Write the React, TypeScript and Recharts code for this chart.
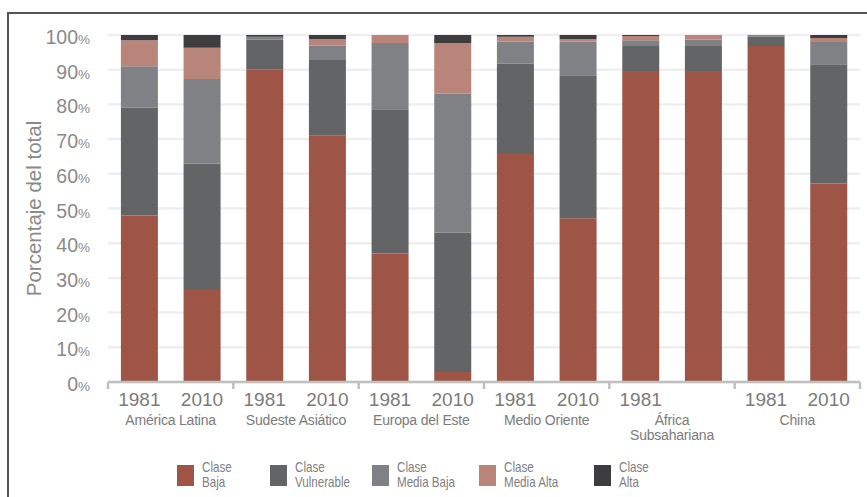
import { BarChart, Bar, XAxis, YAxis, CartesianGrid, Label } from 'recharts';

// regiones (una por grupo de dos barras) y años bajo cada barra
const regions = ['América Latina', 'Sudeste Asiático', 'Europa del Este', 'Medio Oriente', 'África\nSubsahariana', 'China'];
const years = ['1981', '2010', '1981', '2010', '1981', '2010', '1981', '2010', '1981', '', '1981', '2010'];

// porcentaje del total por clase
const claseBaja = [48, 26.5, 90, 71, 37, 2.9, 65.7, 47.2, 89.6, 89.6, 96.8, 57.2];
const claseVulnerable = [31, 36.5, 8.6, 21.8, 41.6, 40.1, 26.0, 41.2, 7.2, 7.2, 2.7, 34.4];
const claseMediaBaja = [12, 24.3, 0.9, 4.1, 19.1, 40.1, 6.4, 9.7, 1.7, 1.9, 0.5, 6.4];
const claseMediaAlta = [7.5, 9, 0, 1.9, 2.3, 14.6, 1.4, 0.7, 1.2, 1.3, 0, 1.1];
const claseAlta = [1.5, 3.7, 0.5, 1.2, 0, 2.3, 0.5, 1.2, 0.3, 0, 0, 0.9];

const yTicks = [0, 10, 20, 30, 40, 50, 60, 70, 80, 90, 100];

const series = [
  { key: 'baja', label: ['Clase', 'Baja'], color: '#9e5546', values: claseBaja },
  { key: 'vulnerable', label: ['Clase', 'Vulnerable'], color: '#636466', values: claseVulnerable },
  { key: 'mediaBaja', label: ['Clase', 'Media Baja'], color: '#808184', values: claseMediaBaja },
  { key: 'mediaAlta', label: ['Clase', 'Media Alta'], color: '#b9857a', values: claseMediaAlta },
  { key: 'alta', label: ['Clase', 'Alta'], color: '#3d3d3f', values: claseAlta },
];

const data = years.map((year, i) => {
  const row: Record<string, string | number> = { key: `b${i}`, year, region: regions[Math.floor(i / 2)] };
  series.forEach((s) => {
    row[s.key] = s.values[i];
  });
  return row;
});

// ancho de cada entrada de la leyenda
const legendWidths = [93, 102, 107, 115, 60];

const FONT = "'Liberation Sans', Arial, sans-serif";

function YTick(props: any) {
  const { x, y, payload } = props;
  return (
    <text x={x} y={y + 9} textAnchor="end" fill="#8a8a8a" fontFamily={FONT}>
      <tspan fontSize={19.5}>{payload.value}</tspan>
      <tspan fontSize={13.5}>%</tspan>
    </text>
  );
}

function XTick(props: any) {
  const { x, y, payload, index } = props;
  const half = payload.offset ?? 31.5;
  const axisY = y - 8;
  const isFirst = index % 2 === 0;
  const isLast = index === years.length - 1;
  const regionLines = isFirst ? regions[index / 2].split('\n') : [];
  return (
    <g>
      {isFirst && (
        <line x1={x - half} x2={x - half} y1={axisY} y2={axisY + 7} stroke="#c0c0c0" strokeWidth={2.5} />
      )}
      {isLast && (
        <line x1={x + half} x2={x + half} y1={axisY} y2={axisY + 7} stroke="#c0c0c0" strokeWidth={2.5} />
      )}
      <text x={x} y={axisY + 23.5} textAnchor="middle" fill="#7b7b7b" fontFamily={FONT} fontSize={19}>
        {years[index]}
      </text>
      {regionLines.map((line, i) => (
        <text
          key={i}
          x={x + half}
          y={axisY + 43 + i * 15}
          textAnchor="middle"
          fill="#7b7b7b"
          fontFamily={FONT}
          fontSize={14}
          letterSpacing={-0.2}
        >
          {line}
        </text>
      ))}
    </g>
  );
}

function AxisTitle(props: any) {
  const { viewBox } = props;
  const cx = 41;
  const cy = viewBox.y + viewBox.height / 2;
  return (
    <text
      x={cx}
      y={cy}
      transform={`rotate(-90, ${cx}, ${cy})`}
      textAnchor="middle"
      fill="#8a8a8a"
      fontFamily={FONT}
      fontSize={20.5}
    >
      Porcentaje del total
    </text>
  );
}

export default function App() {
  return (
    <div style={{ position: 'absolute', left: 0, top: 0, width: 867, height: 497, background: '#fff', overflow: 'hidden' }}>
      {/* marco */}
      <div
        style={{
          position: 'absolute',
          left: 7,
          top: 12,
          width: 870,
          height: 500,
          borderTop: '2px solid #555',
          borderLeft: '2px solid #555',
        }}
      />

      <div style={{ position: 'absolute', left: 0, top: 0 }}>
        <BarChart
          width={867}
          height={445}
          data={data}
          margin={{ top: 35, right: 7, bottom: 0, left: 0 }}
          barCategoryGap="20.6%"
        >
          <CartesianGrid vertical={false} stroke="#efefef" strokeWidth={2.5} />
          <YAxis
            width={108}
            domain={[0, 100]}
            allowDataOverflow
            ticks={yTicks}
            interval={0}
            tickLine={false}
            axisLine={false}
            tickSize={6}
            tickMargin={12}
            tick={<YTick />}
          >
            <Label content={<AxisTitle />} />
          </YAxis>
          <XAxis
            dataKey="key"
            height={63}
            interval={0}
            tickLine={false}
            tickSize={0}
            tickMargin={8}
            axisLine={{ stroke: '#c0c0c0', strokeWidth: 2.5 }}
            tick={<XTick />}
          />
          {series.map((s) => (
            <Bar key={s.key} dataKey={s.key} stackId="a" fill={s.color} isAnimationActive={false} />
          ))}
        </BarChart>
      </div>

      {/* leyenda */}
      <div style={{ position: 'absolute', left: 177, top: 465, display: 'flex' }}>
        {series.map((s, i) => (
          <div key={s.key} style={{ width: legendWidths[i], display: 'flex', alignItems: 'flex-start' }}>
            <div style={{ width: 17, height: 21, background: s.color, flexShrink: 0 }} />
            <div
              style={{
                marginLeft: 8,
                marginTop: -5,
                fontFamily: FONT,
                fontSize: 14.5,
                lineHeight: '14.5px',
                color: '#808080',
                whiteSpace: 'nowrap',
                transform: 'scaleX(0.8)',
                transformOrigin: 'left top',
              }}
            >
              <div>{s.label[0]}</div>
              <div>{s.label[1]}</div>
            </div>
          </div>
        ))}
      </div>
    </div>
  );
}
